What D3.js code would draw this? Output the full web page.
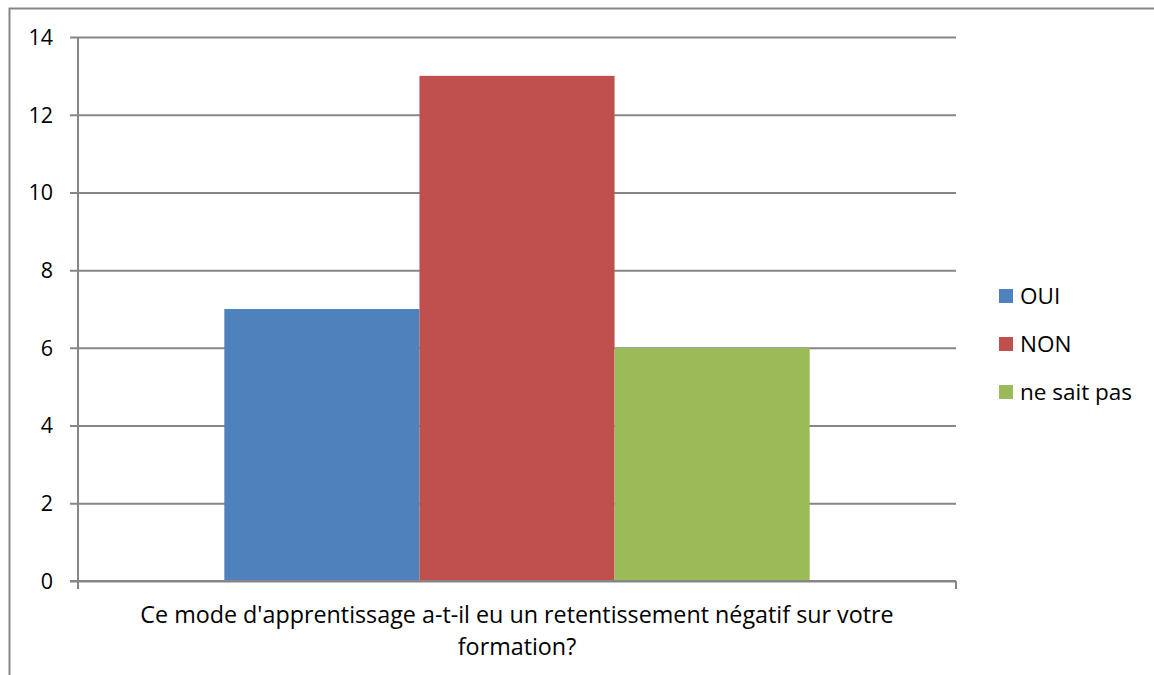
<!DOCTYPE html>
<html><head>
<meta charset="utf-8">
<script src="https://d3js.org/d3.v7.min.js"></script>
<style>
  body { margin: 0; background: #fff; }
  svg text { font-family: "Open Sans", sans-serif; fill: #000; }
</style>
</head>
<body>
<svg id="chart" width="1154" height="675"></svg>
<script>
// data
let categories = ["Ce mode d'apprentissage a-t-il eu un retentissement négatif sur votre formation?"];
let categoryLines = ["Ce mode d'apprentissage a-t-il eu un retentissement négatif sur votre", "formation?"];
let seriesNames = ["OUI", "NON", "ne sait pas"];
let seriesValues = [7, 13, 6];
let seriesColors = ["#4f81bd", "#c0504d", "#9bbb59"];
let yTicks = [0, 2, 4, 6, 8, 10, 12, 14];

let svg = d3.select("#chart");

// outer chart frame (runs off the page right and bottom)
svg.append("rect")
  .attr("x", 9.5).attr("y", 8.5)
  .attr("width", 1200).attr("height", 700)
  .style("fill", "none").style("stroke", "#868686").style("stroke-width", 2);

let plotL = 78, plotR = 956, plotT = 37, plotB = 581;

let xScale = d3.scaleBand().domain(categories).range([plotL, plotR]);
let yScale = d3.scaleLinear().domain([0, 14]).range([plotB, plotT]);
let inner = d3.scaleBand().domain(seriesNames)
  .range([0, xScale.bandwidth()]).paddingOuter(0.75).paddingInner(0);

// gridlines + tick marks
let yAxis = d3.axisLeft(yScale).tickValues(yTicks)
  .tickSize(-(plotR - plotL)).tickFormat(d3.format("d"));
let yg = svg.append("g").attr("transform", "translate(" + plotL + ",0)").call(yAxis);
yg.select(".domain").remove();
yg.selectAll(".tick line").attr("x1", -8)
  .style("stroke", "#868686").style("stroke-width", 2);
yg.selectAll(".tick text").attr("x", -25).attr("dy", "0.34em")
  .style("font-size", "21.5px").style("font-family", "'Open Sans', sans-serif");

// bars
seriesNames.forEach(function(s, i) {
  svg.append("rect")
    .attr("x", xScale(categories[0]) + inner(s))
    .attr("y", yScale(seriesValues[i]))
    .attr("width", inner.bandwidth())
    .attr("height", yScale(0) - yScale(seriesValues[i]))
    .style("fill", seriesColors[i]);
});

// axis lines
svg.append("line").attr("x1", plotL).attr("x2", plotL).attr("y1", plotT).attr("y2", plotB + 8)
  .style("stroke", "#868686").style("stroke-width", 2);
svg.append("line").attr("x1", plotL - 8).attr("x2", plotR).attr("y1", plotB).attr("y2", plotB)
  .style("stroke", "#868686").style("stroke-width", 2);
svg.append("line").attr("x1", plotR).attr("x2", plotR).attr("y1", plotB).attr("y2", plotB + 8)
  .style("stroke", "#868686").style("stroke-width", 2);

// category label
let cx = xScale(categories[0]) + xScale.bandwidth() / 2;
categoryLines.forEach(function(t, i) {
  svg.append("text").attr("x", cx).attr("y", 623 + i * 32)
    .attr("text-anchor", "middle").style("font-size", "23.3px").text(t);
});

// legend
seriesNames.forEach(function(s, i) {
  let y = 296 + i * 48;
  svg.append("rect").attr("x", 999).attr("y", y - 7).attr("width", 14).attr("height", 14)
    .style("fill", seriesColors[i]);
  svg.append("text").attr("x", 1020).attr("y", y + 8)
    .style("font-size", "22.5px").text(s);
});
</script>
</body>
</html>
